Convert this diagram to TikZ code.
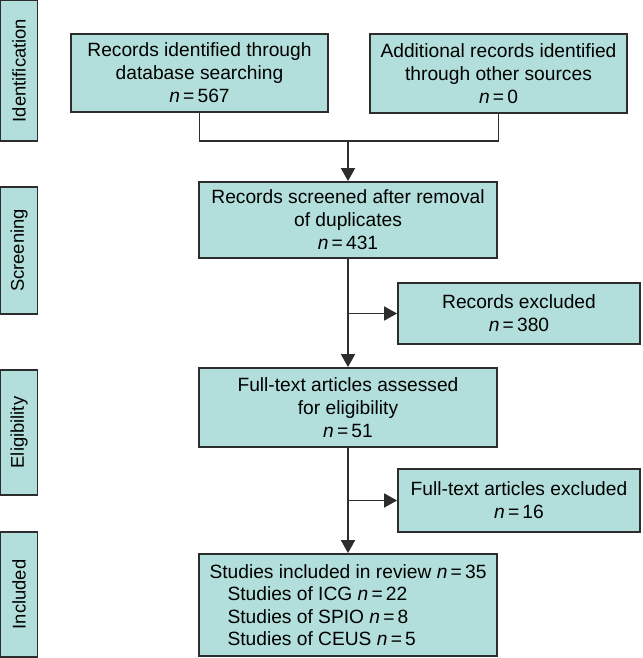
\documentclass[tikz,border=0pt]{standalone}
\usepackage{fontspec}
\setmainfont{Liberation Sans}
\usepackage{xcolor}
\usepackage{tikz}
\usetikzlibrary{arrows.meta,calc}

\definecolor{boxfill}{RGB}{178,223,219}
\definecolor{boxline}{RGB}{45,45,45}
\newcommand{\nval}[1]{\textit{n}\,=\,#1}

\begin{document}
\begin{tikzpicture}[x=0.5pt,y=-0.5pt,
    box/.style={draw=boxline, fill=boxfill, line width=0.9pt, align=center,
        inner sep=0pt, font=\fontsize{9.6pt}{11.5pt}\selectfont},
    stage/.style={box, rotate=90, minimum height=18.5pt,
        font=\fontsize{9.2pt}{11pt}\selectfont},
    link/.style={draw=boxline, line width=0.9pt},
    arr/.style={link, -{Triangle[length=6.5pt,width=7pt]}}]
    \useasboundingbox (0,0) rectangle (642,658);

    % 阶段标签
    \node[stage, minimum width=70.5pt] (sid) at (19,70.5) {Identification};
    \node[stage, minimum width=63.5pt] (sscr) at (19,250.5) {Screening};
    \node[stage, minimum width=62.5pt] (selig) at (19,432.5) {Eligibility};
    \node[stage, minimum width=62.5pt] (sincl) at (19,594.5) {Included};

    % 识别
    \node[box, minimum width=128.5pt, minimum height=39pt] (db) at (199.5,73)
        {Records identified through\\database searching\\\nval{567}};
    \node[box, minimum width=128.5pt, minimum height=39.5pt] (other) at (498.5,73.5)
        {Additional records identified\\through other sources\\\nval{0}};

    % 筛选
    \node[box, minimum width=149pt, minimum height=38pt] (screened) at (348,220)
        {Records screened after removal\\of duplicates\\\nval{431}};
    \node[box, minimum width=121pt, minimum height=30.5pt] (exclrec) at (519,313.5)
        {Records excluded\\\nval{380}};

    % 合格性
    \node[box, minimum width=149pt, minimum height=39.5pt] (fulltext) at (348,407.5)
        {Full-text articles assessed\\for eligibility\\\nval{51}};
    \node[box, minimum width=121pt, minimum height=31.5pt] (exclft) at (519,500.5)
        {Full-text articles excluded\\\nval{16}};

    % 纳入
    \node[box, minimum width=149pt, minimum height=51pt, align=left,
        font=\fontsize{9.6pt}{11.25pt}\selectfont] (included) at (348,605)
        {Studies included in review \nval{35}\\
         \hspace*{9pt}Studies of ICG \nval{22}\\
         \hspace*{9pt}Studies of SPIO \nval{8}\\
         \hspace*{9pt}Studies of CEUS \nval{5}};

    % 连线
    \coordinate (merge) at (348,141);
    \draw[link] (db.south) |- (merge) -| (other.south);
    \draw[arr] (merge) -- (screened.north);
    \draw[arr] (screened.south) -- (fulltext.north);
    \draw[arr] (screened.south |- exclrec.west) -- (exclrec.west);
    \draw[arr] (fulltext.south) -- (included.north);
    \draw[arr] (fulltext.south |- exclft.west) -- (exclft.west);
\end{tikzpicture}
\end{document}
